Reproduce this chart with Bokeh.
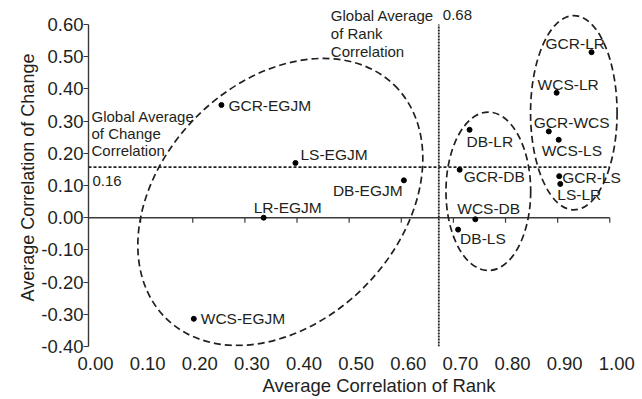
from bokeh.plotting import figure
from bokeh.models import Range1d, FixedTicker, NumeralTickFormatter, ColumnDataSource, Title
from bokeh.core.properties import value
from bokeh.embed import file_html
from bokeh.resources import INLINE

# ---------------- data ----------------
pair_labels = ["GCR-EGJM", "LS-EGJM", "DB-EGJM", "LR-EGJM", "WCS-EGJM",
               "DB-LR", "GCR-DB", "WCS-DB", "DB-LS",
               "GCR-LR", "WCS-LR", "GCR-WCS", "WCS-LS", "GCR-LS", "LS-LR"]
rank_corr = [0.255, 0.397, 0.605, 0.336, 0.202,
             0.731, 0.712, 0.742, 0.709,
             0.965, 0.898, 0.883, 0.902, 0.903, 0.905]
change_corr = [0.350, 0.170, 0.116, 0.000, -0.314,
               0.273, 0.149, -0.005, -0.037,
               0.514, 0.388, 0.268, 0.242, 0.129, 0.105]

global_rank_avg = 0.672
global_rank_text = "0.68"
global_change_avg = 0.157
global_change_text = "0.16"

x_ticks = [0.0, 0.1, 0.2, 0.3, 0.4, 0.5, 0.6, 0.7, 0.8, 0.9, 1.0]
y_ticks = [-0.4, -0.3, -0.2, -0.1, 0.0, 0.1, 0.2, 0.3, 0.4, 0.5, 0.6]

# cluster ellipses (centre, width, height in data units, angle in radians)
cluster_x = [0.368, 0.767, 0.931]
cluster_y = [0.049, 0.082, 0.326]
cluster_w = [0.626, 0.1625, 0.166]
cluster_h = [0.742, 0.492, 0.603]
cluster_angle = [0.797, 0.0, 0.0]

# ---------------- styling ----------------
label_dx = [7, 5, -71, -10, 7, -3, 4, -18, 2, -46, -19, -15, -17, 3, -3]
label_dy = [0, -8, 10, -10, 0, 12, 7, -11, 9, -9, -8, -9, 11, 1, 11]

FONT = "Liberation Sans"
INK = "#231f20"
X_END = 1.0474
LABEL_SHIFT = 7 / 521.3   # x tick labels sit ~7px right of their ticks

p = figure(width=642, height=399, output_backend="svg", toolbar_location=None,
           x_range=Range1d(0, X_END), y_range=Range1d(-0.4, 0.6497),
           min_border_left=88, min_border_right=8, min_border_top=8,
           min_border_bottom=53, outline_line_color=None,
           background_fill_color="white", border_fill_color="white")
p.grid.visible = False
p.extra_x_ranges = {"labels": Range1d(-LABEL_SHIFT, X_END - LABEL_SHIFT)}

# y axis
ya = p.yaxis[0]
ya.ticker = FixedTicker(ticks=y_ticks)
ya.formatter = NumeralTickFormatter(format="0.00")
ya.bounds = (min(y_ticks), max(y_ticks))
ya.axis_line_color = "#3a3a3a"
ya.axis_line_width = 1.4
ya.major_tick_line_color = "#3a3a3a"
ya.major_tick_line_width = 1.2
ya.major_tick_out = 5
ya.major_tick_in = 0
ya.minor_tick_line_color = None
ya.major_label_standoff = 0
ya.major_label_text_font = FONT
ya.major_label_text_font_size = "18.5px"
ya.major_label_text_color = INK
ya.axis_label = "Average Correlation of Change"
ya.axis_label_text_font = FONT
ya.axis_label_text_font_size = "18px"
ya.axis_label_text_font_style = "normal"
ya.axis_label_text_color = INK
ya.axis_label_standoff = 0

# x axis (labels only, at bottom)
xa = p.xaxis[0]
xa.x_range_name = "labels"
xa.ticker = FixedTicker(ticks=x_ticks)
xa.formatter = NumeralTickFormatter(format="0.00")
xa.axis_line_color = None
xa.major_tick_line_color = None
xa.minor_tick_line_color = None
xa.major_tick_out = 0
xa.major_tick_in = 0
xa.major_label_standoff = 10
xa.major_label_text_font = FONT
xa.major_label_text_font_size = "18.5px"
xa.major_label_text_color = INK

p.add_layout(Title(text="Average Correlation of Rank", align="left", offset=174,
                   text_font=FONT, text_font_size="18.5px", text_font_style="normal",
                   text_color=INK, standoff=1), "below")

# zero line with downward ticks
p.line(x=[min(x_ticks), max(x_ticks)], y=[0, 0], line_color="#3a3a3a", line_width=1.4)
tick_len = 5 / 322.0
p.segment(x0=x_ticks[1:], y0=[0] * (len(x_ticks) - 1), x1=x_ticks[1:],
          y1=[-tick_len] * (len(x_ticks) - 1), line_color="#3a3a3a", line_width=1.2)

# global average lines
p.line(x=[min(x_ticks), max(x_ticks)], y=[global_change_avg] * 2,
       line_color=INK, line_width=1.8, line_dash="3 2")
p.line(x=[global_rank_avg] * 2, y=[min(y_ticks), max(y_ticks)],
       line_color=INK, line_width=1.8, line_dash="2 1")

# cluster ellipses
p.ellipse(x=cluster_x, y=cluster_y, width=cluster_w, height=cluster_h,
          angle=cluster_angle, fill_color=None, line_color=INK,
          line_width=1.7, line_dash="7 4")

# points and labels
src = ColumnDataSource(dict(x=rank_corr, y=change_corr, t=pair_labels,
                            dx=label_dx, dy=label_dy))
p.scatter(x="x", y="y", source=src, size=5, color="black")
p.text(x="x", y="y", text="t", source=src, x_offset="dx", y_offset="dy",
       text_font=value(FONT), text_font_size="15.5px", text_color=INK,
       text_align="left", text_baseline="middle")

# annotation texts anchored to the average lines
p.text(x=[min(x_ticks)], y=[global_change_avg],
       text=["Global Average\nof Change\nCorrelation"],
       x_offset=3, y_offset=-34, text_font=value(FONT), text_font_size="15px",
       text_color=INK, text_align="left", text_baseline="middle",
       text_line_height=1.0)
p.text(x=[min(x_ticks)], y=[global_change_avg], text=[global_change_text],
       x_offset=4, y_offset=14, text_font=value(FONT), text_font_size="15px",
       text_color=INK, text_align="left", text_baseline="middle")
p.text(x=[global_rank_avg], y=[max(y_ticks)],
       text=["Global Average\nof Rank\nCorrelation"],
       x_offset=-108, y_offset=9, text_font=value(FONT), text_font_size="15px",
       text_color=INK, text_align="left", text_baseline="middle",
       text_line_height=1.08)
p.text(x=[global_rank_avg], y=[max(y_ticks)], text=[global_rank_text],
       x_offset=4, y_offset=-10, text_font=value(FONT), text_font_size="15px",
       text_color=INK, text_align="left", text_baseline="middle")

open("out.html", "w").write(file_html(p, INLINE))
